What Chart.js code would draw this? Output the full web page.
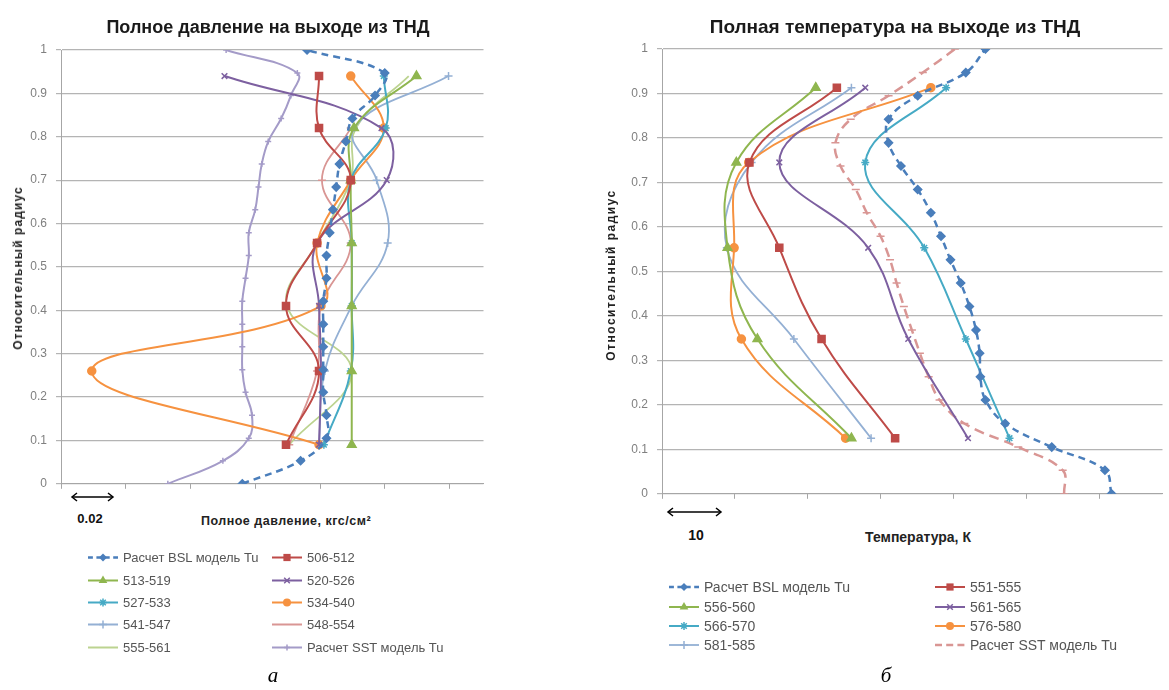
<!DOCTYPE html>
<html><head><meta charset="utf-8">
<script src="https://cdn.jsdelivr.net/npm/chart.js@4.4.1/dist/chart.umd.min.js"></script>
<style>
body{margin:0;background:#fff;}
#page{position:relative;width:1169px;height:690px;overflow:hidden;font-family:"Liberation Sans",Arial,sans-serif;background:#fff;}
.abs{position:absolute;white-space:nowrap;}
.c{transform:translate(-50%,-50%);}
.title{font-weight:bold;color:#1a1a1a;}
.axt{font-weight:bold;color:#222;}
.ytl{font-weight:bold;font-size:12px;letter-spacing:1.1px;color:#222;transform:translate(-50%,-50%) rotate(-90deg);}
.sc{font-weight:bold;font-size:13px;color:#111;}
.leg{color:#555;display:flex;align-items:center;transform:translateY(-50%);}
.leg span{margin-left:5px;}
.fig{font-family:"Liberation Serif","DejaVu Serif",serif;font-style:italic;font-size:21px;color:#000;}
</style></head><body><div id="page">
<canvas id="cp" width="490" height="500" style="position:absolute;left:0;top:0;width:490px;height:500px"></canvas>
<canvas id="ct" width="579" height="510" style="position:absolute;left:590px;top:0;width:579px;height:510px"></canvas>

<div class="abs c title" style="left:268px;top:27px;font-size:18px">Полное давление на выходе из ТНД</div>
<div class="abs c title" style="left:895px;top:27px;font-size:19px">Полная температура на выходе из ТНД</div>
<div class="abs ytl" style="left:18px;top:268px">Относительный радиус</div>
<div class="abs ytl" style="left:611px;top:275px;letter-spacing:1.5px">Относительный радиус</div>
<div class="abs c axt" style="left:286px;top:521px;font-size:12.5px;letter-spacing:0.5px">Полное давление, кгс/см²</div>
<div class="abs c axt" style="left:918px;top:537px;font-size:14px">Температура, К</div>
<div class="abs c sc" style="left:90px;top:518px">0.02</div>
<div class="abs c sc" style="left:696px;top:535px;font-size:14px">10</div>
<svg class="abs" style="left:0;top:0" width="1169" height="690">
  <g stroke="#000" stroke-width="1.5" fill="none">
    <line x1="72" y1="497" x2="113" y2="497"/><polyline points="77,493 72,497 77,501"/><polyline points="108,493 113,497 108,501"/>
    <line x1="668" y1="512" x2="721" y2="512"/><polyline points="673,508 668,512 673,516"/><polyline points="716,508 721,512 716,516"/>
  </g>
</svg>
<div class="abs c fig" style="left:273px;top:675px">а</div>
<div class="abs c fig" style="left:886px;top:675px">б</div>
<div id="legends"></div>
</div>
<script>
// ---------- DATA ----------
const yTicks = [0, 0.1, 0.2, 0.3, 0.4, 0.5, 0.6, 0.7, 0.8, 0.9, 1];
const xTicksP = [0.90, 0.92, 0.94, 0.96, 0.98, 1.00, 1.02];
const xTicksT = [0, 10, 20, 30, 40, 50, 60];

// relative radius of calculated profiles and measurement traverses
const radiiCalc = [0, 0.053, 0.105, 0.158, 0.211, 0.263, 0.316, 0.368, 0.421, 0.474, 0.526, 0.579, 0.632, 0.684, 0.737, 0.789, 0.842, 0.895, 0.947, 1.0];
const radiiExpP = [0.09, 0.26, 0.41, 0.555, 0.70, 0.82, 0.94];
const radiiExpT = [0.125, 0.348, 0.553, 0.745, 0.913];

// total pressure, kgf/cm2
const pBSL = [0.956, 0.974, 0.982, 0.982, 0.981, 0.981, 0.981, 0.981, 0.981, 0.982, 0.982, 0.983, 0.984, 0.985, 0.986, 0.988, 0.990, 0.997, 1.000, 0.976];
const p506 = [0.9695, 0.9797, 0.9695, 0.9791, 0.9895, 0.9797, 0.9797];
const p513 = [0.9898, 0.9898, 0.9898, 0.9898, 0.9895, 0.9905, 1.0098];
const p520 = [0.9797, 0.9803, 0.9797, 0.9791, 1.0006, 0.9990, 0.9505];
const p527 = [0.9812, 0.9895, 0.9898, 0.9898, 0.9895, 1.0003, 0.9997];
const p534 = [0.9797, 0.9095, 0.9803, 0.9791, 0.9895, 0.9997, 0.9895];
const p541 = [0.9797, 0.9815, 0.9898, 1.0009, 0.9975, 0.9905, 1.0197];
const p548 = [0.9705, 0.9791, 0.9803, 0.9895, 0.9806, 0.9895];
const p555 = [0.9705, 0.9898, 0.9698, 0.9791, 0.9895, 0.9911, 1.0074];
const pSST = [0.933, 0.950, 0.958, 0.959, 0.957, 0.956, 0.956, 0.956, 0.956, 0.957, 0.958, 0.958, 0.960, 0.961, 0.962, 0.964, 0.968, 0.971, 0.973, 0.951];

// total temperature, K (relative)
const tBSL = [61.7, 60.8, 53.5, 47.1, 44.4, 43.7, 43.6, 43.1, 42.2, 41.0, 39.6, 38.3, 36.9, 35.1, 32.8, 31.1, 31.1, 35.1, 41.7, 44.4];
const t551 = [32.0, 21.9, 16.1, 12.0, 24.0];
const t556 = [26.0, 13.1, 9.0, 10.2, 21.1];
const t561 = [42.0, 33.8, 28.3, 16.1, 27.9];
const t566 = [47.7, 41.7, 36.0, 27.9, 39.0];
const t576 = [25.2, 10.9, 9.9, 11.9, 36.9];
const t581 = [28.7, 18.1, 8.9, 12.3, 26.0];
const tSST = [55.2, 55.0, 48.9, 41.5, 38.1, 36.6, 35.4, 34.3, 33.2, 32.2, 31.3, 30.0, 28.1, 26.6, 24.5, 23.8, 25.9, 31.1, 35.8, 40.2];

// ---------- STYLES ----------
const ST = {
  bsl:    {color:'#4a7ebb', dash:[7,5], marker:'rectRot', r:4, w:2.5},
  red:    {color:'#be4b48', marker:'rect', r:5, w:2},
  green:  {color:'#8fb64f', marker:'triangle', r:5, w:2},
  purple: {color:'#7d60a0', marker:'crossRot', r:4, w:2},
  teal:   {color:'#46aac5', marker:'star', r:4, w:2},
  orange: {color:'#f69240', marker:'circle', r:4, w:2},
  lblue:  {color:'#94b0d4', marker:'cross', r:4, w:1.8},
  pink:   {color:'#d99694', marker:'line', r:4, w:1.8},
  lgreen: {color:'#bcd390', marker:null, r:0, w:1.8},
  lav:    {color:'#a49bc8', marker:'cross', r:3, w:2},
  sstT:   {color:'#d99694', dash:[10,6], marker:'line', r:4, w:2.5}
};

const seriesP = [
  {label:'Расчет BSL модель Tu', xs:pBSL, ys:radiiCalc, st:'bsl'},
  {label:'506-512', xs:p506, ys:radiiExpP, st:'red'},
  {label:'513-519', xs:p513, ys:radiiExpP, st:'green'},
  {label:'520-526', xs:p520, ys:radiiExpP, st:'purple'},
  {label:'527-533', xs:p527, ys:radiiExpP, st:'teal'},
  {label:'534-540', xs:p534, ys:radiiExpP, st:'orange'},
  {label:'541-547', xs:p541, ys:radiiExpP, st:'lblue'},
  {label:'548-554', xs:p548, ys:radiiExpP, st:'pink'},
  {label:'555-561', xs:p555, ys:radiiExpP, st:'lgreen'},
  {label:'Расчет SST модель Tu', xs:pSST, ys:radiiCalc, st:'lav'}
];
const seriesT = [
  {label:'Расчет BSL модель Tu', xs:tBSL, ys:radiiCalc, st:'bsl'},
  {label:'551-555', xs:t551, ys:radiiExpT, st:'red'},
  {label:'556-560', xs:t556, ys:radiiExpT, st:'green'},
  {label:'561-565', xs:t561, ys:radiiExpT, st:'purple'},
  {label:'566-570', xs:t566, ys:radiiExpT, st:'teal'},
  {label:'576-580', xs:t576, ys:radiiExpT, st:'orange'},
  {label:'581-585', xs:t581, ys:radiiExpT, st:'lblue'},
  {label:'Расчет SST модель Tu', xs:tSST, ys:radiiCalc, st:'sstT'}
];

Chart.defaults.font.family = '"Liberation Sans", Arial, sans-serif';

function toDataset(s){
  const st = ST[s.st];
  return {
    label: s.label,
    data: s.xs.map((x,i)=>({x:x, y:s.ys[i]})),
    borderColor: st.color,
    backgroundColor: st.color,
    borderWidth: st.w,
    borderDash: st.dash || [],
    pointStyle: st.marker || 'circle',
    pointRadius: st.marker ? st.r : 0,
    pointBorderWidth: 1.5,
    pointBorderColor: st.color,
    pointBackgroundColor: st.color,
    tension: 0.4,
    fill: false
  };
}

function makeChart(id, series, xMin, xMax, xTicks, yWidth, xHeight, pad){
  return new Chart(document.getElementById(id), {
    type: 'line',
    data: { datasets: series.map(toDataset) },
    options: {
      responsive: false, animation: false, events: [],
      layout: { padding: pad },
      plugins: { legend:{display:false}, tooltip:{enabled:false}, title:{display:false} },
      scales: {
        x: {
          type:'linear', min:xMin, max:xMax,
          afterBuildTicks: s => { s.ticks = xTicks.map(v=>({value:v})); },
          afterFit: s => { s.height = xHeight; },
          ticks: { display:false },
          grid: { drawOnChartArea:false, drawTicks:true, tickLength:5, color:'#a6a6a6' },
          border: { display:true, color:'#a6a6a6', width:1 }
        },
        y: {
          type:'linear', min:0, max:1,
          afterBuildTicks: s => { s.ticks = yTicks.map(v=>({value:v})); },
          afterFit: s => { s.width = yWidth; },
          ticks: { color:'#808080', font:{size:12}, padding:9, callback: v => String(+(+v).toFixed(1)) },
          grid: { color:'#b4b4b4', lineWidth:1.2, tickLength:5 },
          border: { display:true, color:'#a6a6a6', width:1 }
        }
      }
    }
  });
}

makeChart('cp', seriesP, 0.90, 1.0305, xTicksP, 61, 13, {top:50, right:5, left:0, bottom:0});
makeChart('ct', seriesT, 0, 68.7, xTicksT, 72, 12, {top:49, right:3, left:0, bottom:0});

// ---------- HTML legends ----------
function markerSVG(st, cx, cy){
  const c = st.color, r = st.r;
  switch(st.marker){
    case 'rectRot': return `<polygon points="${cx},${cy-r} ${cx+r},${cy} ${cx},${cy+r} ${cx-r},${cy}" fill="${c}"/>`;
    case 'rect': { const h=r*0.72; return `<rect x="${cx-h}" y="${cy-h}" width="${2*h}" height="${2*h}" fill="${c}"/>`; }
    case 'triangle': return `<polygon points="${cx},${cy-r} ${cx+r*0.87},${cy+r*0.5} ${cx-r*0.87},${cy+r*0.5}" fill="${c}"/>`;
    case 'crossRot': { const d=r*0.7; return `<path d="M${cx-d} ${cy-d}L${cx+d} ${cy+d}M${cx-d} ${cy+d}L${cx+d} ${cy-d}" stroke="${c}" stroke-width="1.5"/>`; }
    case 'star': { const d=r*0.7; return `<path d="M${cx-d} ${cy-d}L${cx+d} ${cy+d}M${cx-d} ${cy+d}L${cx+d} ${cy-d}M${cx} ${cy-r}L${cx} ${cy+r}M${cx-r} ${cy}L${cx+r} ${cy}" stroke="${c}" stroke-width="1.5"/>`; }
    case 'circle': return `<circle cx="${cx}" cy="${cy}" r="${r}" fill="${c}"/>`;
    case 'cross': return `<path d="M${cx} ${cy-r}L${cx} ${cy+r}M${cx-r} ${cy}L${cx+r} ${cy}" stroke="${c}" stroke-width="1.5"/>`;
    default: return '';
  }
}
function legendItem(s, x, y, fs){
  const st = ST[s.st];
  const dash = st.dash ? `stroke-dasharray="${st.dash[0]*0.7},${st.dash[1]*0.7}"` : '';
  const svg = `<svg width="30" height="12"><line x1="0" y1="6" x2="30" y2="6" stroke="${st.color}" stroke-width="${st.w}" ${dash}/>${markerSVG(st,15,6)}</svg>`;
  return `<div class="abs leg" style="left:${x}px;top:${y}px;font-size:${fs}px">${svg}<span>${s.label}</span></div>`;
}
let html = '';
const legP = {cols:[88, 272], rows:[557, 580, 602, 624, 647]};
seriesP.forEach((s,i)=>{ html += legendItem(s, legP.cols[i%2], legP.rows[Math.floor(i/2)], 13); });
const legT = {cols:[669, 935], rows:[587, 607, 626, 645]};
seriesT.forEach((s,i)=>{ html += legendItem(s, legT.cols[i%2], legT.rows[Math.floor(i/2)], 14); });
document.getElementById('legends').innerHTML = html;
</script>
</body></html>
